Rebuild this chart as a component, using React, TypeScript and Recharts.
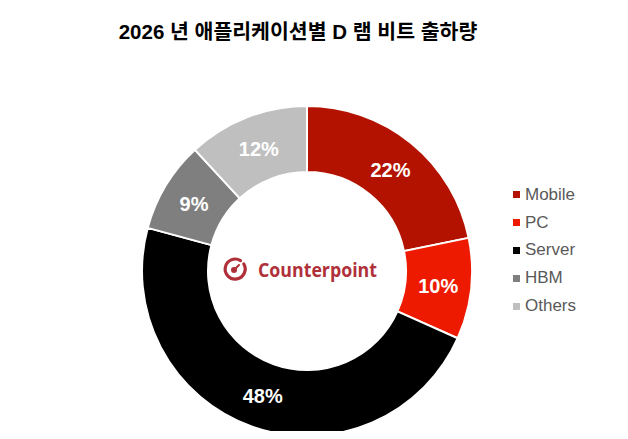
import { PieChart, Pie, Cell, Legend } from "recharts";

const categories = ["Mobile", "PC", "Server", "HBM", "Others"];
const shares = [22, 10, 48, 9, 12];
const colors = ["#B31200", "#EE1A00", "#000000", "#7F7F7F", "#BFBFBF"];

const data = categories.map((name, i) => ({ name, value: shares[i] }));

const RAD = Math.PI / 180;

function SliceLabel(props: any) {
  const { cx, cy, midAngle, innerRadius, outerRadius, value } = props;
  const r = (innerRadius + outerRadius) / 2;
  const x = cx + r * Math.cos(-midAngle * RAD);
  const y = cy + r * Math.sin(-midAngle * RAD);
  return (
    <text
      x={x}
      y={y + 1}
      fill="#ffffff"
      textAnchor="middle"
      dominantBaseline="central"
      fontFamily="'Liberation Sans', Arial, sans-serif"
      fontWeight="bold"
      fontSize={20}
    >
      {value}%
    </text>
  );
}

function LegendList() {
  return (
    <div style={{ fontFamily: "'Liberation Sans', Arial, sans-serif", fontSize: 17, color: "#595959" }}>
      {categories.map((c, i) => (
        <div key={c} style={{ display: "flex", alignItems: "center", height: 27.8 }}>
          <span style={{ width: 7, height: 7, background: colors[i], marginRight: 5, display: "inline-block" }} />
          {c}
        </div>
      ))}
    </div>
  );
}

export default function App() {
  return (
    <div style={{ position: "relative", width: 628, height: 439, margin: -8, background: "#fff", overflow: "hidden" }}>
      <div
        style={{
          position: "absolute",
          top: 15,
          left: 0,
          width: 596,
          textAlign: "center",
          fontFamily: "'Liberation Sans', 'Noto Sans CJK KR', Arial, sans-serif",
          fontWeight: "bold",
          fontSize: 20.5,
          color: "#000",
        }}
      >
        2026 년 애플리케이션별 D 램 비트 출하량
      </div>
      <PieChart
        width={628}
        height={439}
        margin={{ top: 0, right: 0, bottom: 0, left: 0 }}
        style={{ position: "absolute", top: 0, left: 0 }}
      >
        <Pie
          data={data}
          dataKey="value"
          nameKey="name"
          cx={307}
          cy={271}
          innerRadius={99}
          outerRadius={165}
          startAngle={90}
          endAngle={-270}
          stroke="#ffffff"
          strokeWidth={2}
          label={SliceLabel}
          labelLine={false}
          isAnimationActive={false}
        >
          {data.map((d, i) => (
            <Cell key={d.name} fill={colors[i]} />
          ))}
        </Pie>
        <Legend
          content={<LegendList />}
          layout="vertical"
          wrapperStyle={{ position: "absolute", left: 513, top: 181, width: 110 }}
        />
      </PieChart>
      <svg width={170} height={40} style={{ position: "absolute", left: 218, top: 250 }}>
        <path d="M 22.5 10.6 A 10 10 0 1 0 25.8 14" fill="none" stroke="#B0303A" strokeWidth={3.2} strokeLinecap="round" />
        <circle cx={16} cy={20} r={3} fill="#B0303A" />
        <path d="M 17.5 18.5 L 21 15" stroke="#B0303A" strokeWidth={2} strokeLinecap="round" />
        <text
          x={40}
          y={27}
          fill="#B0303A"
          fontFamily="'Open Sans', 'Noto Sans', sans-serif"
          fontWeight={700}
          fontSize={19}
          textLength={119}
          lengthAdjust="spacingAndGlyphs"
        >
          Counterpoint
        </text>
      </svg>
    </div>
  );
}
